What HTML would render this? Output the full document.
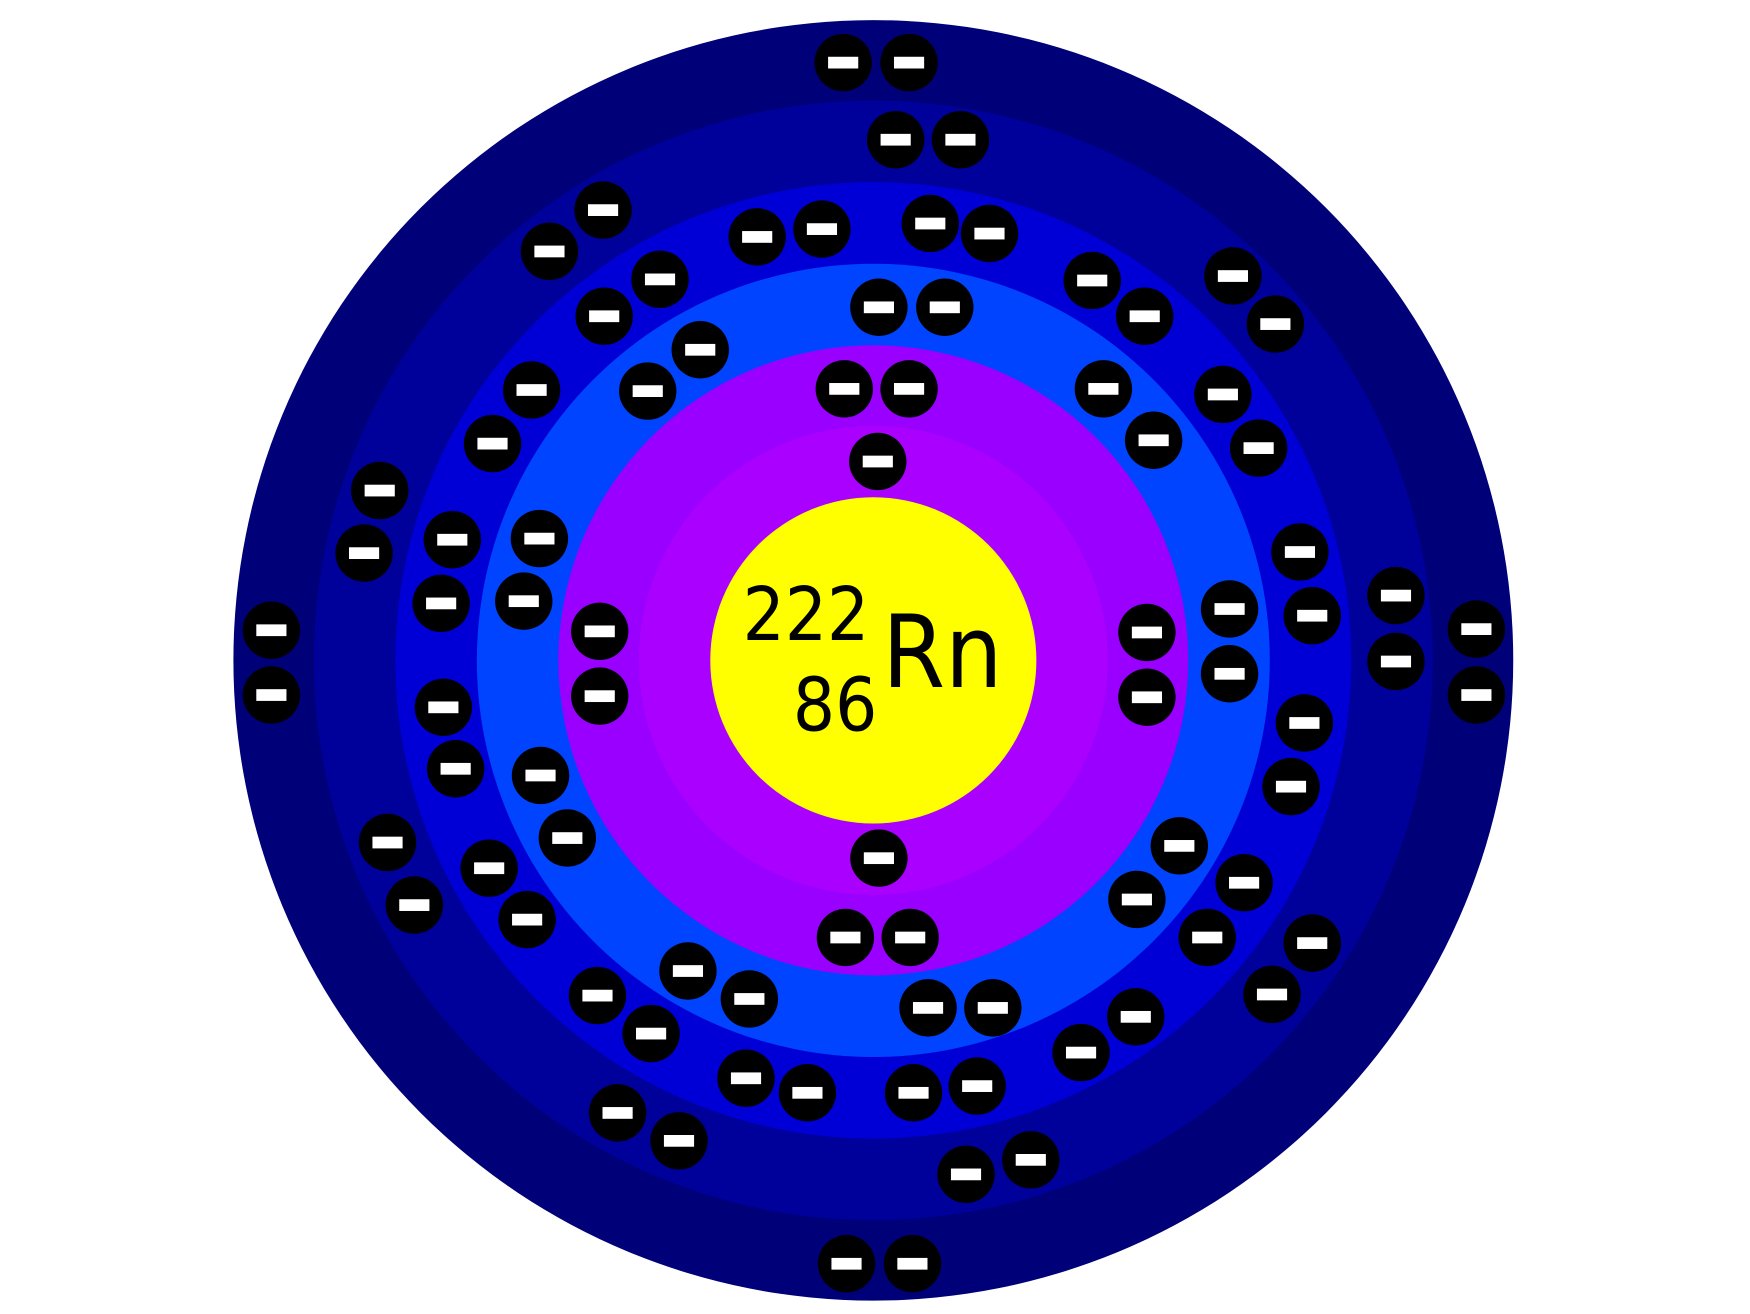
<!DOCTYPE html>
<html><head><style>html,body{margin:0;padding:0;background:#fff}svg{display:block}</style></head>
<body>
<svg width="1750" height="1314" viewBox="0 0 1567 1176" preserveAspectRatio="none" xmlns="http://www.w3.org/2000/svg">
<defs>
<g id="el"><circle cx="0" cy="0" r="25.7" fill="#000"/><rect x="-13.5" y="-5.2" width="27" height="10.5" fill="#fff"/></g>
</defs>
<circle cx="782" cy="591" r="573" fill="#000078"/>
<circle cx="782" cy="591" r="501" fill="#00009a"/>
<circle cx="782" cy="591" r="428" fill="#0000d6"/>
<circle cx="782" cy="591" r="355" fill="#0044ff"/>
<circle cx="782" cy="591" r="282" fill="#9900ff"/>
<circle cx="782" cy="591" r="210" fill="#aa00ff"/>
<circle cx="782" cy="591" r="146" fill="#ffff00"/>
<g font-family="DejaVu Sans, Liberation Sans, sans-serif" fill="#000">
<text transform="translate(665,573) scale(0.9,1)" font-size="66">222</text>
<text transform="translate(710,654) scale(0.9,1)" font-size="66">86</text>
<text transform="translate(790,615) scale(0.9,1)" font-size="90">Rn</text>
</g>
<use href="#el" x="755" y="56"/><use href="#el" x="814" y="56"/><use href="#el" x="802" y="125"/><use href="#el" x="860" y="125"/>
<use href="#el" x="540" y="188"/><use href="#el" x="492" y="225"/><use href="#el" x="591" y="250"/><use href="#el" x="541" y="283"/>
<use href="#el" x="678" y="212"/><use href="#el" x="736" y="205"/><use href="#el" x="833" y="200"/><use href="#el" x="886" y="209"/>
<use href="#el" x="787" y="275"/><use href="#el" x="846" y="275"/><use href="#el" x="627" y="313"/><use href="#el" x="580" y="350"/>
<use href="#el" x="476" y="349"/><use href="#el" x="441" y="397"/><use href="#el" x="978" y="251"/><use href="#el" x="1025" y="283"/>
<use href="#el" x="988" y="348"/><use href="#el" x="1033" y="394"/><use href="#el" x="1104" y="247"/><use href="#el" x="1142" y="290"/>
<use href="#el" x="1095" y="353"/><use href="#el" x="1127" y="401"/><use href="#el" x="756" y="348"/><use href="#el" x="814" y="348"/>
<use href="#el" x="786" y="413"/><use href="#el" x="340" y="439"/><use href="#el" x="326" y="495"/><use href="#el" x="405" y="483"/>
<use href="#el" x="395" y="540"/><use href="#el" x="483" y="482"/><use href="#el" x="469" y="538"/><use href="#el" x="243" y="564"/>
<use href="#el" x="243" y="622"/><use href="#el" x="537" y="565"/><use href="#el" x="537" y="623"/><use href="#el" x="1027" y="566"/>
<use href="#el" x="1027" y="624"/><use href="#el" x="1101" y="545"/><use href="#el" x="1101" y="603"/><use href="#el" x="1164" y="494"/>
<use href="#el" x="1175" y="551"/><use href="#el" x="1250" y="533"/><use href="#el" x="1250" y="592"/><use href="#el" x="1322" y="563"/>
<use href="#el" x="1322" y="622"/><use href="#el" x="397" y="633"/><use href="#el" x="408" y="688"/><use href="#el" x="484" y="694"/>
<use href="#el" x="508" y="750"/><use href="#el" x="347" y="754"/><use href="#el" x="371" y="810"/><use href="#el" x="438" y="777"/>
<use href="#el" x="472" y="823"/><use href="#el" x="1168" y="647"/><use href="#el" x="1156" y="704"/><use href="#el" x="1056" y="757"/>
<use href="#el" x="1018" y="805"/><use href="#el" x="1114" y="790"/><use href="#el" x="1081" y="839"/><use href="#el" x="1175" y="844"/>
<use href="#el" x="1139" y="890"/><use href="#el" x="787" y="768"/><use href="#el" x="757" y="839"/><use href="#el" x="815" y="839"/>
<use href="#el" x="616" y="869"/><use href="#el" x="671" y="894"/><use href="#el" x="535" y="891"/><use href="#el" x="583" y="925"/>
<use href="#el" x="831" y="902"/><use href="#el" x="889" y="902"/><use href="#el" x="1017" y="910"/><use href="#el" x="968" y="942"/>
<use href="#el" x="668" y="965"/><use href="#el" x="723" y="978"/><use href="#el" x="818" y="978"/><use href="#el" x="875" y="972"/>
<use href="#el" x="553" y="996"/><use href="#el" x="608" y="1021"/><use href="#el" x="865" y="1051"/><use href="#el" x="923" y="1038"/>
<use href="#el" x="758" y="1131"/><use href="#el" x="817" y="1131"/>
</svg>
</body></html>
